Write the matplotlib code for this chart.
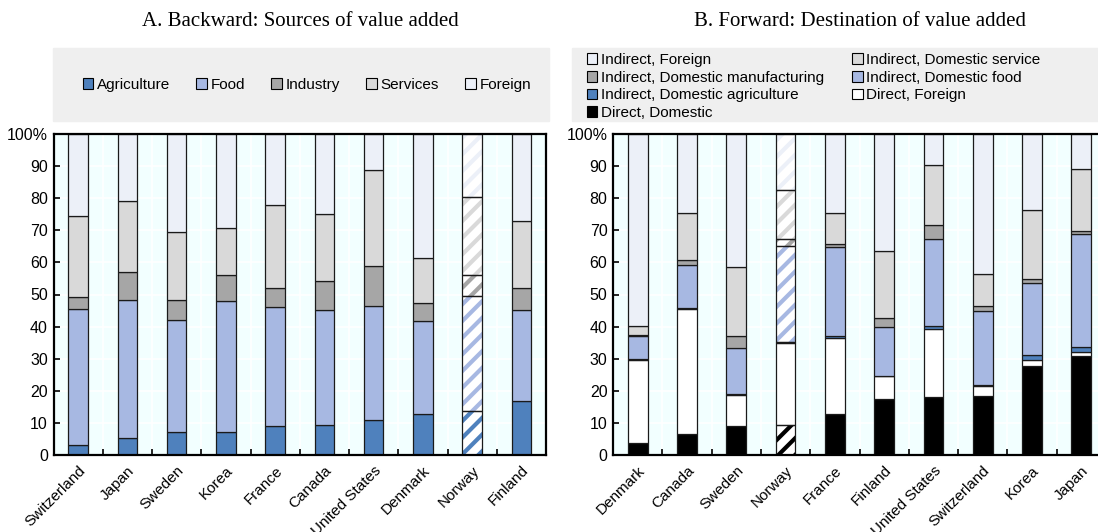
import numpy as np
import matplotlib.pyplot as plt
from matplotlib.patches import Patch, Rectangle

plt.rcParams['font.family'] = ['Liberation Sans', 'DejaVu Sans']
plt.rcParams['hatch.linewidth'] = 3.0
FS = 11

# Panel A: backward linkages, sources of value added (% of total)
back_countries = ["Switzerland", "Japan", "Sweden", "Korea", "France",
                  "Canada", "United States", "Denmark", "Norway", "Finland"]
back_agri = [3.2, 5.3, 7.1, 7.3, 9.0, 9.3, 10.9, 12.9, 13.8, 16.9]
back_food = [42.2, 43.1, 35.0, 40.7, 37.1, 35.9, 35.6, 28.7, 35.6, 28.2]
back_industry = [3.9, 8.5, 6.3, 8.1, 5.8, 9.1, 12.4, 5.9, 6.7, 6.9]
back_services = [25.0, 22.1, 21.2, 14.7, 26.1, 20.9, 29.8, 14.0, 24.4, 20.9]
back_foreign = [25.7, 21.0, 30.4, 29.2, 22.0, 24.8, 11.3, 38.5, 19.5, 27.1]

# Panel B: forward linkages, destination of value added (% of total)
fwd_countries = ["Denmark", "Canada", "Sweden", "Norway", "France",
                 "Finland", "United States", "Switzerland", "Korea", "Japan"]
direct_domestic = [3.7, 6.6, 9.0, 9.3, 12.8, 17.5, 18.2, 18.5, 27.8, 30.8]
direct_foreign = [25.8, 38.8, 9.6, 25.7, 23.8, 7.0, 21.0, 3.0, 1.9, 1.2]
ind_agri = [0.4, 0.3, 0.3, 0.1, 0.5, 0.2, 0.9, 0.2, 1.3, 1.5]
ind_food = [7.2, 13.4, 14.3, 30.1, 27.8, 15.3, 27.3, 23.3, 22.5, 35.2]
ind_manuf = [0.4, 1.8, 3.9, 2.0, 0.9, 2.8, 4.1, 1.3, 1.3, 1.2]
ind_service = [2.8, 14.6, 21.4, 15.5, 9.5, 20.9, 18.8, 10.2, 21.5, 19.1]
ind_foreign = [59.7, 24.5, 41.5, 17.3, 24.7, 36.3, 9.7, 43.5, 23.7, 11.0]

C_AGRI = '#4F81BD'
C_FOOD = '#A7B8E2'
C_IND = '#A6A6A6'
C_SERV = '#D9D9D9'
C_FOR = '#ECF0F8'

W, H = 1098, 532
fig = plt.figure(figsize=(W / 100, H / 100), dpi=100)


def px(x0, y0, x1, y1):
    return [x0 / W, 1 - y1 / H, (x1 - x0) / W, (y1 - y0) / H]


def stacked(ax, countries, series, hatched):
    x = np.arange(len(countries))
    bottom = np.zeros(len(countries))
    for vals, col in series:
        vals = np.asarray(vals, float)
        for i in x:
            if countries[i] == hatched:
                ax.bar(i, vals[i], 0.4, bottom[i], color='white', edgecolor=col,
                       hatch='//', linewidth=0, zorder=2)
                ax.bar(i, vals[i], 0.4, bottom[i], fill=False, edgecolor='#1a1a1a',
                       linewidth=0.9, zorder=3)
            else:
                ax.bar(i, vals[i], 0.4, bottom[i], color=col, edgecolor='#1a1a1a',
                       linewidth=0.9, zorder=2)
        bottom += vals

    ax.set_facecolor('#F2FFFF')
    ax.set_xlim(-0.5, len(countries) - 0.5)
    ax.set_ylim(0, 100)
    ax.set_xticks(x)
    ax.set_xticklabels(countries, rotation=45, ha='right', rotation_mode='anchor',
                       fontsize=FS)
    ax.set_xticks(x[:-1] + 0.5, minor=True)
    ax.tick_params(axis='x', which='major', length=0, pad=6)
    ax.tick_params(axis='x', which='minor', direction='in', length=4, width=1.2)
    ax.set_yticks(range(0, 101, 10))
    ax.set_yticklabels([str(v) for v in range(0, 100, 10)] + ['100%'], fontsize=FS + 0.5)
    ax.tick_params(axis='y', direction='in', length=4, width=1.2, pad=4)
    for v in range(10, 100, 10):
        ax.axhline(v, color='white', linewidth=1.2, zorder=1)
    for b in x[:-1] + 0.5:
        ax.axvline(b, color='white', linewidth=1.2, zorder=1)
    for s in ax.spines.values():
        s.set_linewidth(1.6)
        s.set_color('black')
        s.set_zorder(4)


axA = fig.add_axes(px(53.5, 134, 546, 455))
stacked(axA, back_countries,
        [(back_agri, C_AGRI), (back_food, C_FOOD), (back_industry, C_IND),
         (back_services, C_SERV), (back_foreign, C_FOR)], 'Norway')

axB = fig.add_axes(px(613, 134, 1106, 455))
stacked(axB, fwd_countries,
        [(direct_domestic, 'black'), (direct_foreign, 'white'), (ind_agri, C_AGRI),
         (ind_food, C_FOOD), (ind_manuf, C_IND), (ind_service, C_SERV),
         (ind_foreign, C_FOR)], 'Norway')

# grey legend panels above each chart
fig.patches.append(Rectangle((53 / W, 1 - 121 / H), (549 - 53) / W, 73 / H,
                             transform=fig.transFigure, color='#EFEFEF', zorder=0))
fig.patches.append(Rectangle((572 / W, 1 - 121 / H), (1098 - 572) / W, 73 / H,
                             transform=fig.transFigure, color='#EFEFEF', zorder=0))


def box(col):
    return Patch(facecolor=col, edgecolor='black', linewidth=0.8)


fig.legend([box(c) for c in (C_AGRI, C_FOOD, C_IND, C_SERV, C_FOR)],
           ['Agriculture', 'Food', 'Industry', 'Services', 'Foreign'],
           loc='center', bbox_to_anchor=(307 / W, 1 - 85 / H), ncol=5, frameon=False,
           fontsize=FS, handlelength=0.7, handleheight=0.7, handletextpad=0.25,
           columnspacing=1.7)

fig.legend([box(C_FOR), box(C_IND), box(C_AGRI), box('black'),
            box(C_SERV), box(C_FOOD), box('white')],
           ['Indirect, Foreign', 'Indirect, Domestic manufacturing',
            'Indirect, Domestic agriculture', 'Direct, Domestic',
            'Indirect, Domestic service', 'Indirect, Domestic food', 'Direct, Foreign'],
           loc='upper left', bbox_to_anchor=(576 / W, 1 - 42 / H), ncol=2, frameon=False,
           fontsize=FS, handlelength=0.7, handleheight=0.7, handletextpad=0.25,
           columnspacing=1.8, labelspacing=0.25, borderpad=0.2)

fig.text(300 / W, 1 - 21 / H, 'A. Backward: Sources of value added', ha='center',
         va='center', fontsize=15, family='Liberation Serif')
fig.text(860 / W, 1 - 21 / H, 'B. Forward: Destination of value added', ha='center',
         va='center', fontsize=15, family='Liberation Serif')

fig.savefig('out.png', dpi=100, facecolor='white')
